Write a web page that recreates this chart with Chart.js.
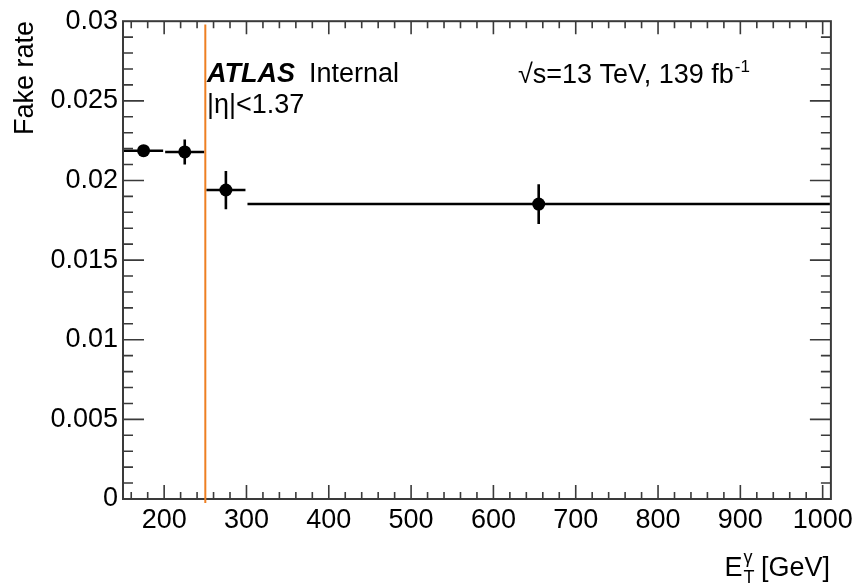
<!DOCTYPE html>
<html>
<head>
<meta charset="utf-8">
<script src="https://cdn.jsdelivr.net/npm/chart.js@4.4.1/dist/chart.umd.min.js"></script>
<style>
  html, body { margin: 0; padding: 0; background: #fff; }
</style>
</head>
<body>
<canvas id="myChart" width="858" height="585"></canvas>
<script>
// bins of photon ET [GeV]
const binLow  = [150, 200, 250, 300];
const binHigh = [200, 250, 300, 1010];
// marker positions and fake rate values
const pointX   = [175, 225, 275, 655];
const fakeRate = [0.02187, 0.02179, 0.01940, 0.01852];
const rateErr  = [0.0003, 0.00078, 0.0012, 0.00125];

// tick labels
const xTickVals = [200, 300, 400, 500, 600, 700, 800, 900, 1000];
const xTickLabels = ['200', '300', '400', '500', '600', '700', '800', '900', '1000'];
const yTickVals = [0, 0.005, 0.01, 0.015, 0.02, 0.025, 0.03];
const yTickLabels = ['0', '0.005', '0.01', '0.015', '0.02', '0.025', '0.03'];

// eta cut line at 250 GeV
const cutX = 250;
const cutRange = [-0.00025, 0.0298];

const FONT = "'Liberation Sans', Arial, Helvetica, sans-serif";

// error bars (drawn under the markers)
const errorBars = {
  id: 'errorBars',
  beforeDatasetsDraw(chart) {
    const { ctx, scales: { x, y }, chartArea } = chart;
    ctx.save();
    ctx.beginPath();
    ctx.rect(chartArea.left, chartArea.top, chartArea.right - chartArea.left, chartArea.bottom - chartArea.top);
    ctx.clip();
    ctx.strokeStyle = '#000';
    ctx.lineWidth = 2.6;
    for (let i = 0; i < pointX.length; i++) {
      const py = y.getPixelForValue(fakeRate[i]);
      const px = x.getPixelForValue(pointX[i]);
      ctx.beginPath();
      ctx.moveTo(x.getPixelForValue(binLow[i]) + 1, py);
      ctx.lineTo(x.getPixelForValue(binHigh[i]) - 1, py);
      ctx.moveTo(px, y.getPixelForValue(fakeRate[i] - rateErr[i]));
      ctx.lineTo(px, y.getPixelForValue(fakeRate[i] + rateErr[i]));
      ctx.stroke();
    }
    ctx.restore();
  }
};

// ROOT style frame, inward ticks, cut line and labels
const atlasFrame = {
  id: 'atlasFrame',
  afterDraw(chart) {
    const { ctx, scales: { x, y }, chartArea: a } = chart;
    ctx.save();
    ctx.strokeStyle = '#3a3a3a';
    ctx.lineWidth = 2;
    ctx.strokeRect(a.left, a.top, a.right - a.left, a.bottom - a.top);

    ctx.lineWidth = 1.6;
    ctx.beginPath();
    // x ticks, every 20 GeV, major every 100
    for (let v = 160; v <= 1010; v += 20) {
      const px = x.getPixelForValue(v);
      const major = v % 100 === 0;
      const lb = major ? 14 : 7;
      const lt = major ? 13 : 7;
      ctx.moveTo(px, a.bottom); ctx.lineTo(px, a.bottom - lb);
      ctx.moveTo(px, a.top); ctx.lineTo(px, a.top + lt);
    }
    // y ticks, every 0.001, major every 0.005
    for (let k = 1; k < 30; k++) {
      const py = y.getPixelForValue(k * 0.001);
      const l = k % 5 === 0 ? 21 : 10;
      ctx.moveTo(a.left, py); ctx.lineTo(a.left + l, py);
      ctx.moveTo(a.right, py); ctx.lineTo(a.right - l, py);
    }
    ctx.stroke();

    // orange cut line
    ctx.strokeStyle = '#ee7f22';
    ctx.lineWidth = 2;
    ctx.beginPath();
    const cx = x.getPixelForValue(cutX);
    ctx.moveTo(cx, y.getPixelForValue(cutRange[0]));
    ctx.lineTo(cx, y.getPixelForValue(cutRange[1]));
    ctx.stroke();

    ctx.fillStyle = '#000';
    ctx.textBaseline = 'alphabetic';

    // ATLAS Internal
    ctx.font = 'italic bold 27px ' + FONT;
    ctx.textAlign = 'left';
    ctx.fillText('ATLAS', 207, 82);
    ctx.font = '27px ' + FONT;
    ctx.fillText('Internal', 309, 82);
    ctx.fillText('|\u03b7|<1.37', 207, 113);

    // sqrt(s) and luminosity
    const lumi = '\u221as=13 TeV, 139 fb';
    ctx.fillText(lumi, 518, 83);
    const lw = ctx.measureText(lumi).width;
    ctx.font = '17px ' + FONT;
    ctx.fillText('-1', 518 + lw + 1, 72);

    // y axis title
    ctx.font = '27px ' + FONT;
    ctx.save();
    ctx.translate(33, 21);
    ctx.rotate(-Math.PI / 2);
    ctx.textAlign = 'right';
    ctx.fillText('Fake rate', 0, 0);
    ctx.restore();

    // x axis title E_T^gamma [GeV]
    ctx.font = '27px ' + FONT;
    const wE = ctx.measureText('E').width;
    const wG = ctx.measureText(' [GeV]').width;
    ctx.font = '18px ' + FONT;
    const wS = Math.max(ctx.measureText('T').width, ctx.measureText('\u03b3').width);
    const x0 = 830 - (wE + wS + wG);
    ctx.font = '27px ' + FONT;
    ctx.fillText('E', x0, 576);
    ctx.fillText(' [GeV]', x0 + wE + wS, 576);
    ctx.font = '18px ' + FONT;
    ctx.fillText('T', x0 + wE + 1, 583);
    ctx.fillText('\u03b3', x0 + wE + 1, 563);
    ctx.restore();
  }
};

document.addEventListener('DOMContentLoaded', () => {
  const ctx = document.getElementById('myChart').getContext('2d');
  new Chart(ctx, {
    type: 'scatter',
    data: {
      datasets: [{
        data: pointX.map((v, i) => ({ x: v, y: fakeRate[i] })),
        pointRadius: 6.5,
        pointBackgroundColor: '#000',
        pointBorderColor: '#000',
        pointBorderWidth: 0,
        showLine: false
      }]
    },
    options: {
      responsive: false,
      animation: false,
      layout: { padding: { top: 21, right: 26, left: 0, bottom: 0 } },
      plugins: {
        legend: { display: false },
        tooltip: { enabled: false }
      },
      scales: {
        x: {
          type: 'linear',
          min: 150,
          max: 1010,
          grid: { display: false, drawTicks: false },
          border: { display: false },
          afterBuildTicks: s => { s.ticks = xTickVals.map(v => ({ value: v })); },
          afterFit: s => { s.height = 86; },
          ticks: {
            font: { family: FONT, size: 27 },
            color: '#000',
            padding: 5,
            maxRotation: 0,
            autoSkip: false,
            callback: (v, i) => xTickLabels[i]
          }
        },
        y: {
          min: 0,
          max: 0.03,
          grid: { display: false, drawTicks: false },
          border: { display: false },
          afterBuildTicks: s => { s.ticks = yTickVals.map(v => ({ value: v })); },
          afterFit: s => { s.width = 123; },
          ticks: {
            font: { family: FONT, size: 27 },
            color: '#000',
            padding: 5,
            autoSkip: false,
            callback: (v, i) => yTickLabels[i]
          }
        }
      }
    },
    plugins: [errorBars, atlasFrame]
  });
});
</script>
</body>
</html>
